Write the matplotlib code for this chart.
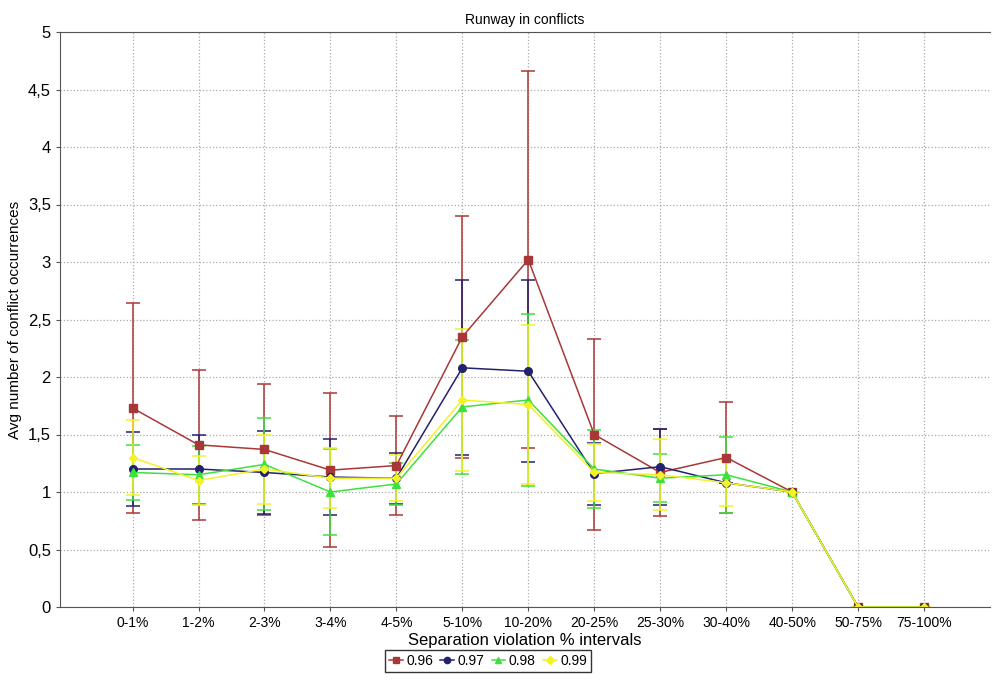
import numpy as np
import matplotlib
matplotlib.use('Agg')
from matplotlib import pyplot as plt
from matplotlib.lines import Line2D
from matplotlib.ticker import FuncFormatter

# intervals on the x axis
intervals = ['0-1%', '1-2%', '2-3%', '3-4%', '4-5%', '5-10%', '10-20%',
             '20-25%', '25-30%', '30-40%', '40-50%', '50-75%', '75-100%']

# average number of conflict occurrences per series
avg_096 = [1.73, 1.41, 1.37, 1.19, 1.23, 2.35, 3.02, 1.50, 1.17, 1.30, 1.00, 0, 0]
avg_097 = [1.20, 1.20, 1.17, 1.13, 1.12, 2.08, 2.05, 1.16, 1.22, 1.08, 1.00, 0, 0]
avg_098 = [1.17, 1.15, 1.24, 1.00, 1.07, 1.74, 1.80, 1.20, 1.12, 1.15, 1.00, 0, 0]
avg_099 = [1.30, 1.10, 1.20, 1.12, 1.12, 1.80, 1.76, 1.17, 1.15, 1.08, 1.00, 0, 0]

# error bar half widths
err_096 = [0.91, 0.65, 0.57, 0.67, 0.43, 1.05, 1.64, 0.83, 0.38, 0.48, 0, 0, 0]
err_097 = [0.32, 0.30, 0.36, 0.33, 0.22, 0.76, 0.79, 0.27, 0.33, 0.00, 0, 0, 0]
err_098 = [0.24, 0.25, 0.40, 0.37, 0.18, 0.58, 0.75, 0.34, 0.21, 0.33, 0, 0, 0]
err_099 = [0.33, 0.21, 0.30, 0.26, 0.20, 0.62, 0.69, 0.25, 0.31, 0.20, 0, 0, 0]

labels = ['0.96', '0.97', '0.98', '0.99']
series = [avg_096, avg_097, avg_098, avg_099]
errors = [err_096, err_097, err_098, err_099]
colors = ['#a83838', '#22226e', '#3ee03e', '#f2f226']
markers = ['s', 'o', '^', 'D']
msizes = [5.5, 5.5, 5.5, 4.5]

plt.rcParams['font.family'] = ['Liberation Sans', 'DejaVu Sans']

fig = plt.figure(figsize=(9.92, 6.85), dpi=100)
ax = fig.add_axes([60/992, 78/685, 930/992, 575/685])

x = np.arange(len(intervals))
handles = []
for vals, err, lab, c, m, ms in zip(series, errors, labels, colors, markers, msizes):
    ax.errorbar(x, vals, yerr=err, color=c, marker=m, markersize=ms,
                markeredgecolor=c, linewidth=1.1, elinewidth=1.1,
                capsize=5, capthick=1.1)
    handles.append(Line2D([], [], color=c, marker=m, markersize=4.5, linewidth=1.1, label=lab))

ax.set_xlim(-1.1, 13.0)
ax.set_ylim(0, 5)
ax.set_xticks(x)
ax.set_xticklabels(intervals)
ax.set_yticks(np.arange(0, 5.01, 0.5))
ax.yaxis.set_major_formatter(FuncFormatter(lambda v, p: ('%g' % v).replace('.', ',')))
ax.tick_params(labelsize=10, length=3, color='#555555')
ax.tick_params(axis='y', labelsize=12)
ax.grid(True, linestyle=':', color='#aaaaaa', linewidth=0.9)
for s in ['top', 'right']:
    ax.spines[s].set_visible(False)
ax.spines['left'].set_color('#555555')
ax.spines['bottom'].set_color('#555555')
ax.plot([-1.1, 13.0], [5, 5], color='#555555', linewidth=0.8, clip_on=False)

ax.set_title('Runway in conflicts', fontsize=10, pad=6)
ax.set_xlabel('Separation violation % intervals', fontsize=12, labelpad=2)
ax.set_ylabel('Avg number of conflict occurrences', fontsize=11)

leg = fig.legend(handles=handles, loc='center', bbox_to_anchor=(488/992, 1 - 661/685), ncol=4,
                 fontsize=10, frameon=True, fancybox=False, handlelength=1.0,
                 handletextpad=0.25, columnspacing=0.5, borderpad=0.3)
leg.get_frame().set_edgecolor('black')

plt.savefig('out.png', dpi=100)
